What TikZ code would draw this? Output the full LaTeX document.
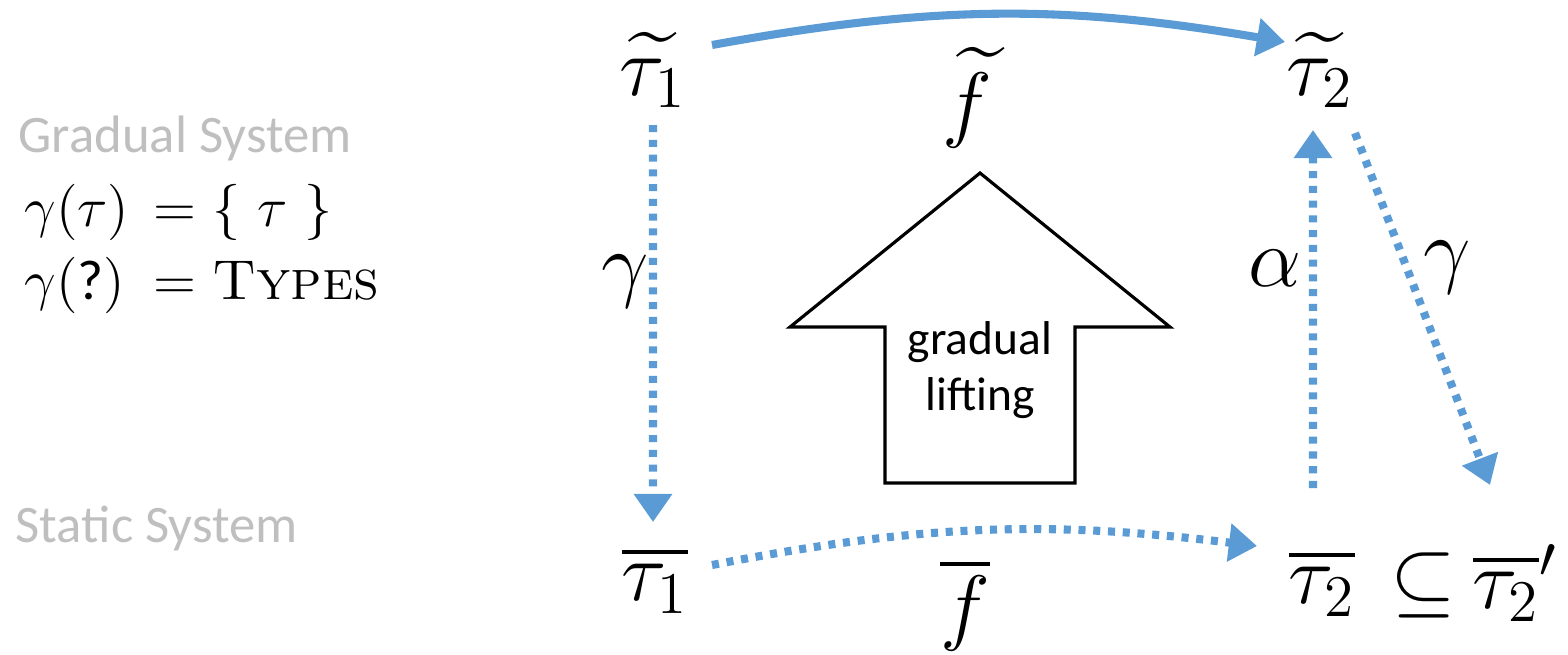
\RequirePackage{fix-cm}
\documentclass[tikz,border=0pt]{standalone}
\usepackage{amsmath}
\usepackage{fontspec}
\newfontfamily\sansfnt{Carlito}
\usepackage{tikz}
\usetikzlibrary{arrows.meta, positioning}
\definecolor{ablue}{RGB}{91,155,213}
\definecolor{lgray}{RGB}{191,191,191}
\tikzset{
  mt/.style  ={font=\fontsize{24}{28}\selectfont, inner sep=1pt},
  fm/.style  ={font=\fontsize{16}{19}\selectfont, inner sep=0pt, anchor=base west},
  sys/.style ={font=\sansfnt\fontsize{15}{18}\selectfont, text=lgray, anchor=west, inner sep=0pt},
  big/.style ={line width=0.9pt, line join=miter},
  fl/.style  ={ablue, line width=2.3pt, -{Triangle[length=8pt,width=10.5pt]}},
  dfl/.style ={fl, dash pattern=on 2pt off 2.2pt},
}

\begin{document}
\begin{tikzpicture}
  \useasboundingbox (0,0) rectangle (15.68,-6.54);
  % left side
  \node[sys] (gs) at (0.18,-1.38) {Gradual System};
  \node[sys] (ss) at (0.15,-5.28) {Static System};
  \node[fm] (c1) at (0.24,-2.26) {$\gamma(\tau)$};
  \node[fm] (d1) at (1.53,-2.26) {$=\{\ \tau\ \}$};
  \node[fm] (c2) at (0.24,-2.99) {$\gamma(\text{\sansfnt ?})$};
  \node[fm] (d2) at (1.53,-2.99) {$=\text{\textsc{Types}}$};
  % types
  \node[mt] (t1) at (6.53,-0.70) {$\widetilde{\tau_1}$};
  \node[mt] (t2) at (13.20,-0.70) {$\widetilde{\tau_2}$};
  \node[mt] (ft) at (9.67,-0.98) {$\widetilde{f}$};
  \node[mt] (b1) at (6.55,-5.80) {$\overline{\tau_1}$};
  \node[mt] (fb) at (9.65,-6.05) {$\overline{f}$};
  \node[mt] (b2) at (13.22,-5.83) {$\overline{\tau_2}$};
  \node[mt] (sub) at (14.23,-5.85) {$\subseteq$};
  \node[mt] (b2p) at (15.15,-5.83) {$\overline{\tau_2}'$};
  % arrow labels
  \node[mt] (g1) at (6.25,-2.82) {$\gamma$};
  \node[mt] (al) at (12.75,-2.68) {$\alpha$};
  \node[mt] (g2) at (14.47,-2.68) {$\gamma$};
  % lifting
  \draw[big] (9.80,-1.73) -- (11.70,-3.27) -- (10.75,-3.27) -- (10.75,-4.83)
    -- (8.85,-4.83) -- (8.85,-3.27) -- (7.90,-3.27) -- cycle;
  \node[font=\sansfnt\fontsize{13.5}{16}\selectfont, align=center] (lift) at (9.80,-3.70) {gradual\\lifting};
  % connectors
  \draw[fl] ([shift={(0.59,0.25)}]t1.center) to[bend left=10] ([shift={(-0.35,0.28)}]t2.center);
  \draw[dfl] ([yshift=-5.5mm]t1.center) -- ([shift={(-0.02,0.58)}]b1.center);
  \draw[dfl] ([shift={(0.57,0.15)}]b1.center) to[bend left=9] ([shift={(-0.65,0.37)}]b2.center);
  \draw[dfl] ([shift={(-0.09,0.95)}]b2.center) -- ([shift={(-0.07,-0.60)}]t2.center);
  \draw[dfl] ([shift={(0.35,-0.63)}]t2.center) -- ([shift={(-0.25,0.98)}]b2p.center);
\end{tikzpicture}
\end{document}
